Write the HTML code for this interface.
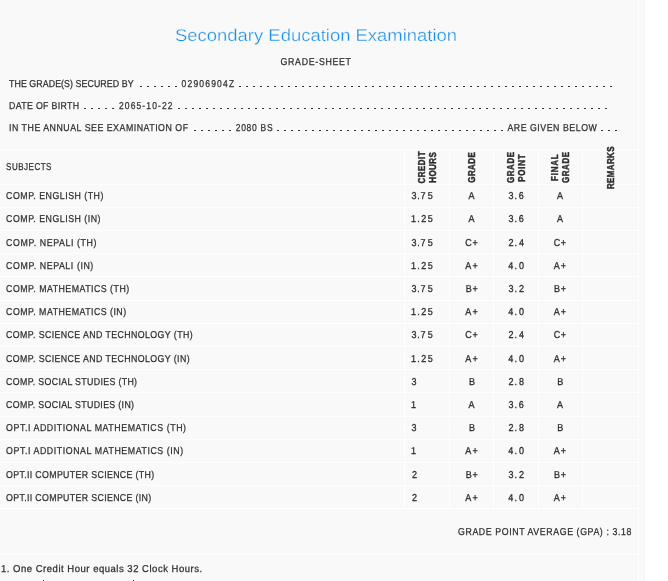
<!DOCTYPE html><html><head><meta charset="utf-8"><title>Grade Sheet</title><style>html,body{margin:0;padding:0;background:#fff;}svg{display:block;will-change:transform}text{font-family:"Liberation Sans",sans-serif}</style></head><body>
<svg width="668" height="581" viewBox="0 0 668 581" shape-rendering="crispEdges">
<rect x="0" y="0" width="645" height="581" fill="#f9f9f9"/>
<g fill="#ffffff">
<rect x="638" y="0" width="1" height="581"/>
<rect x="0" y="149" width="638" height="1"/>
<rect x="0" y="184" width="638" height="1"/>
<rect x="0" y="207" width="638" height="1"/>
<rect x="0" y="230" width="638" height="1"/>
<rect x="0" y="253" width="638" height="1"/>
<rect x="0" y="276" width="638" height="1"/>
<rect x="0" y="300" width="638" height="1"/>
<rect x="0" y="323" width="638" height="1"/>
<rect x="0" y="346" width="638" height="1"/>
<rect x="0" y="369" width="638" height="1"/>
<rect x="0" y="392" width="638" height="1"/>
<rect x="0" y="416" width="638" height="1"/>
<rect x="0" y="439" width="638" height="1"/>
<rect x="0" y="462" width="638" height="1"/>
<rect x="0" y="485" width="638" height="1"/>
<rect x="0" y="508" width="638" height="1"/>
<rect x="0" y="554" width="638" height="1"/>
<rect x="404" y="149" width="1" height="359"/>
<rect x="449" y="149" width="1" height="359"/>
<rect x="493" y="149" width="1" height="359"/>
<rect x="538" y="149" width="1" height="359"/>
<rect x="582" y="149" width="1" height="359"/>
</g>
<g fill="#333333">
<rect x="140" y="86" width="2" height="1"/>
<rect x="147" y="86" width="2" height="1"/>
<rect x="154" y="86" width="2" height="1"/>
<rect x="161" y="86" width="2" height="1"/>
<rect x="168" y="86" width="2" height="1"/>
<rect x="175" y="86" width="2" height="1"/>
<rect x="239" y="86" width="2" height="1"/>
<rect x="246" y="86" width="2" height="1"/>
<rect x="253" y="86" width="2" height="1"/>
<rect x="260" y="86" width="2" height="1"/>
<rect x="267" y="86" width="2" height="1"/>
<rect x="274" y="86" width="2" height="1"/>
<rect x="281" y="86" width="2" height="1"/>
<rect x="288" y="86" width="2" height="1"/>
<rect x="295" y="86" width="2" height="1"/>
<rect x="302" y="86" width="2" height="1"/>
<rect x="309" y="86" width="2" height="1"/>
<rect x="316" y="86" width="2" height="1"/>
<rect x="323" y="86" width="2" height="1"/>
<rect x="330" y="86" width="2" height="1"/>
<rect x="337" y="86" width="2" height="1"/>
<rect x="344" y="86" width="2" height="1"/>
<rect x="351" y="86" width="2" height="1"/>
<rect x="358" y="86" width="2" height="1"/>
<rect x="365" y="86" width="2" height="1"/>
<rect x="372" y="86" width="2" height="1"/>
<rect x="379" y="86" width="2" height="1"/>
<rect x="386" y="86" width="2" height="1"/>
<rect x="393" y="86" width="2" height="1"/>
<rect x="400" y="86" width="2" height="1"/>
<rect x="407" y="86" width="2" height="1"/>
<rect x="414" y="86" width="2" height="1"/>
<rect x="421" y="86" width="2" height="1"/>
<rect x="428" y="86" width="2" height="1"/>
<rect x="435" y="86" width="2" height="1"/>
<rect x="442" y="86" width="2" height="1"/>
<rect x="449" y="86" width="2" height="1"/>
<rect x="456" y="86" width="2" height="1"/>
<rect x="463" y="86" width="2" height="1"/>
<rect x="470" y="86" width="2" height="1"/>
<rect x="477" y="86" width="2" height="1"/>
<rect x="484" y="86" width="2" height="1"/>
<rect x="491" y="86" width="2" height="1"/>
<rect x="498" y="86" width="2" height="1"/>
<rect x="505" y="86" width="2" height="1"/>
<rect x="512" y="86" width="2" height="1"/>
<rect x="519" y="86" width="2" height="1"/>
<rect x="526" y="86" width="2" height="1"/>
<rect x="533" y="86" width="2" height="1"/>
<rect x="540" y="86" width="2" height="1"/>
<rect x="547" y="86" width="2" height="1"/>
<rect x="554" y="86" width="2" height="1"/>
<rect x="561" y="86" width="2" height="1"/>
<rect x="568" y="86" width="2" height="1"/>
<rect x="575" y="86" width="2" height="1"/>
<rect x="582" y="86" width="2" height="1"/>
<rect x="589" y="86" width="2" height="1"/>
<rect x="596" y="86" width="2" height="1"/>
<rect x="603" y="86" width="2" height="1"/>
<rect x="610" y="86" width="2" height="1"/>
<rect x="84" y="108" width="2" height="1"/>
<rect x="91" y="108" width="2" height="1"/>
<rect x="98" y="108" width="2" height="1"/>
<rect x="105" y="108" width="2" height="1"/>
<rect x="112" y="108" width="2" height="1"/>
<rect x="178" y="108" width="2" height="1"/>
<rect x="185" y="108" width="2" height="1"/>
<rect x="192" y="108" width="2" height="1"/>
<rect x="199" y="108" width="2" height="1"/>
<rect x="206" y="108" width="2" height="1"/>
<rect x="213" y="108" width="2" height="1"/>
<rect x="220" y="108" width="2" height="1"/>
<rect x="227" y="108" width="2" height="1"/>
<rect x="234" y="108" width="2" height="1"/>
<rect x="241" y="108" width="2" height="1"/>
<rect x="248" y="108" width="2" height="1"/>
<rect x="255" y="108" width="2" height="1"/>
<rect x="262" y="108" width="2" height="1"/>
<rect x="269" y="108" width="2" height="1"/>
<rect x="276" y="108" width="2" height="1"/>
<rect x="283" y="108" width="2" height="1"/>
<rect x="290" y="108" width="2" height="1"/>
<rect x="297" y="108" width="2" height="1"/>
<rect x="304" y="108" width="2" height="1"/>
<rect x="311" y="108" width="2" height="1"/>
<rect x="318" y="108" width="2" height="1"/>
<rect x="325" y="108" width="2" height="1"/>
<rect x="332" y="108" width="2" height="1"/>
<rect x="339" y="108" width="2" height="1"/>
<rect x="346" y="108" width="2" height="1"/>
<rect x="353" y="108" width="2" height="1"/>
<rect x="360" y="108" width="2" height="1"/>
<rect x="367" y="108" width="2" height="1"/>
<rect x="374" y="108" width="2" height="1"/>
<rect x="381" y="108" width="2" height="1"/>
<rect x="388" y="108" width="2" height="1"/>
<rect x="395" y="108" width="2" height="1"/>
<rect x="402" y="108" width="2" height="1"/>
<rect x="409" y="108" width="2" height="1"/>
<rect x="416" y="108" width="2" height="1"/>
<rect x="423" y="108" width="2" height="1"/>
<rect x="430" y="108" width="2" height="1"/>
<rect x="437" y="108" width="2" height="1"/>
<rect x="444" y="108" width="2" height="1"/>
<rect x="451" y="108" width="2" height="1"/>
<rect x="458" y="108" width="2" height="1"/>
<rect x="465" y="108" width="2" height="1"/>
<rect x="472" y="108" width="2" height="1"/>
<rect x="479" y="108" width="2" height="1"/>
<rect x="486" y="108" width="2" height="1"/>
<rect x="493" y="108" width="2" height="1"/>
<rect x="500" y="108" width="2" height="1"/>
<rect x="507" y="108" width="2" height="1"/>
<rect x="514" y="108" width="2" height="1"/>
<rect x="521" y="108" width="2" height="1"/>
<rect x="528" y="108" width="2" height="1"/>
<rect x="535" y="108" width="2" height="1"/>
<rect x="542" y="108" width="2" height="1"/>
<rect x="549" y="108" width="2" height="1"/>
<rect x="556" y="108" width="2" height="1"/>
<rect x="563" y="108" width="2" height="1"/>
<rect x="570" y="108" width="2" height="1"/>
<rect x="577" y="108" width="2" height="1"/>
<rect x="584" y="108" width="2" height="1"/>
<rect x="591" y="108" width="2" height="1"/>
<rect x="598" y="108" width="2" height="1"/>
<rect x="605" y="108" width="2" height="1"/>
<rect x="194" y="130" width="2" height="1"/>
<rect x="201" y="130" width="2" height="1"/>
<rect x="208" y="130" width="2" height="1"/>
<rect x="215" y="130" width="2" height="1"/>
<rect x="222" y="130" width="2" height="1"/>
<rect x="229" y="130" width="2" height="1"/>
<rect x="277" y="130" width="2" height="1"/>
<rect x="284" y="130" width="2" height="1"/>
<rect x="291" y="130" width="2" height="1"/>
<rect x="298" y="130" width="2" height="1"/>
<rect x="305" y="130" width="2" height="1"/>
<rect x="312" y="130" width="2" height="1"/>
<rect x="319" y="130" width="2" height="1"/>
<rect x="326" y="130" width="2" height="1"/>
<rect x="333" y="130" width="2" height="1"/>
<rect x="340" y="130" width="2" height="1"/>
<rect x="347" y="130" width="2" height="1"/>
<rect x="354" y="130" width="2" height="1"/>
<rect x="361" y="130" width="2" height="1"/>
<rect x="368" y="130" width="2" height="1"/>
<rect x="375" y="130" width="2" height="1"/>
<rect x="382" y="130" width="2" height="1"/>
<rect x="389" y="130" width="2" height="1"/>
<rect x="396" y="130" width="2" height="1"/>
<rect x="403" y="130" width="2" height="1"/>
<rect x="410" y="130" width="2" height="1"/>
<rect x="417" y="130" width="2" height="1"/>
<rect x="424" y="130" width="2" height="1"/>
<rect x="431" y="130" width="2" height="1"/>
<rect x="438" y="130" width="2" height="1"/>
<rect x="445" y="130" width="2" height="1"/>
<rect x="452" y="130" width="2" height="1"/>
<rect x="459" y="130" width="2" height="1"/>
<rect x="466" y="130" width="2" height="1"/>
<rect x="473" y="130" width="2" height="1"/>
<rect x="480" y="130" width="2" height="1"/>
<rect x="487" y="130" width="2" height="1"/>
<rect x="494" y="130" width="2" height="1"/>
<rect x="501" y="130" width="2" height="1"/>
<rect x="601" y="130" width="2" height="1"/>
<rect x="608" y="130" width="2" height="1"/>
<rect x="615" y="130" width="2" height="1"/>
</g>
<g text-rendering="geometricPrecision" shape-rendering="auto">
<text transform="translate(175.000,41.000)" font-family="Liberation Sans" font-size="17" fill="#1a8fe6" stroke="#f9f9f9" stroke-width="0.3" textLength="282.091" lengthAdjust="spacingAndGlyphs">Secondary Education Examination</text>
<text transform="translate(280.500,65.000) scale(0.88,1)" font-family="Liberation Sans" font-size="10" fill="#2d2d2d" stroke="#2d2d2d" stroke-width="0.25" textLength="80.098" lengthAdjust="spacing">GRADE-SHEET</text>
<text transform="translate(9.000,87.000) scale(0.88,1)" font-family="Liberation Sans" font-size="10" fill="#2d2d2d" stroke="#2d2d2d" stroke-width="0.25" textLength="141.550" lengthAdjust="spacing">THE GRADE(S) SECURED BY</text>
<text transform="translate(181.600,87.000) scale(0.85,1)" font-family="Liberation Sans" font-size="10" fill="#2d2d2d" stroke="#2d2d2d" stroke-width="0.25" textLength="61.821" lengthAdjust="spacing">02906904Z</text>
<text transform="translate(9.000,109.000) scale(0.88,1)" font-family="Liberation Sans" font-size="10" fill="#2d2d2d" stroke="#2d2d2d" stroke-width="0.25" textLength="79.642" lengthAdjust="spacing">DATE OF BIRTH</text>
<text transform="translate(119.000,109.000) scale(0.85,1)" font-family="Liberation Sans" font-size="10" fill="#2d2d2d" stroke="#2d2d2d" stroke-width="0.25" textLength="62.965" lengthAdjust="spacing">2065-10-22</text>
<text transform="translate(9.000,131.000) scale(0.88,1)" font-family="Liberation Sans" font-size="10" fill="#2d2d2d" stroke="#2d2d2d" stroke-width="0.25" textLength="203.457" lengthAdjust="spacing">IN THE ANNUAL SEE EXAMINATION OF</text>
<text transform="translate(235.700,131.000) scale(0.85,1)" font-family="Liberation Sans" font-size="10" fill="#2d2d2d" stroke="#2d2d2d" stroke-width="0.25" textLength="43.379" lengthAdjust="spacing">2080 BS</text>
<text transform="translate(507.400,131.000) scale(0.88,1)" font-family="Liberation Sans" font-size="10" fill="#2d2d2d" stroke="#2d2d2d" stroke-width="0.25" textLength="101.637" lengthAdjust="spacing">ARE GIVEN BELOW</text>
<text transform="translate(6.100,170.000) scale(0.8,1)" font-family="Liberation Sans" font-size="10" fill="#2d2d2d" stroke="#2d2d2d" stroke-width="0.25" textLength="56.696" lengthAdjust="spacing">SUBJECTS</text>
<text transform="translate(424.900,183.600) rotate(-90) scale(0.8,1)" font-family="Liberation Sans" font-size="10" font-weight="bold" fill="#2d2d2d" stroke="#2d2d2d" stroke-width="0.45" textLength="40.327" lengthAdjust="spacing">CREDIT</text>
<text transform="translate(436.000,182.700) rotate(-90) scale(0.8,1)" font-family="Liberation Sans" font-size="10" font-weight="bold" fill="#2d2d2d" stroke="#2d2d2d" stroke-width="0.45" textLength="38.080" lengthAdjust="spacing">HOURS</text>
<text transform="translate(475.200,182.700) rotate(-90) scale(0.8,1)" font-family="Liberation Sans" font-size="10" font-weight="bold" fill="#2d2d2d" stroke="#2d2d2d" stroke-width="0.45" textLength="38.080" lengthAdjust="spacing">GRADE</text>
<text transform="translate(514.400,182.900) rotate(-90) scale(0.8,1)" font-family="Liberation Sans" font-size="10" font-weight="bold" fill="#2d2d2d" stroke="#2d2d2d" stroke-width="0.45" textLength="38.705" lengthAdjust="spacing">GRADE</text>
<text transform="translate(525.300,181.700) rotate(-90) scale(0.8,1)" font-family="Liberation Sans" font-size="10" font-weight="bold" fill="#2d2d2d" stroke="#2d2d2d" stroke-width="0.45" textLength="34.291" lengthAdjust="spacing">POINT</text>
<text transform="translate(558.400,180.900) rotate(-90) scale(0.8,1)" font-family="Liberation Sans" font-size="10" font-weight="bold" fill="#2d2d2d" stroke="#2d2d2d" stroke-width="0.45" textLength="33.045" lengthAdjust="spacing">FINAL</text>
<text transform="translate(569.400,182.900) rotate(-90) scale(0.8,1)" font-family="Liberation Sans" font-size="10" font-weight="bold" fill="#2d2d2d" stroke="#2d2d2d" stroke-width="0.45" textLength="38.705" lengthAdjust="spacing">GRADE</text>
<text transform="translate(614.200,189.000) rotate(-90) scale(0.8,1)" font-family="Liberation Sans" font-size="10" font-weight="bold" fill="#2d2d2d" stroke="#2d2d2d" stroke-width="0.45" textLength="53.147" lengthAdjust="spacing">REMARKS</text>
<text transform="translate(6.100,199.000) scale(0.88,1)" font-family="Liberation Sans" font-size="10" fill="#2d2d2d" stroke="#2d2d2d" stroke-width="0.25" textLength="110.582" lengthAdjust="spacing">COMP. ENGLISH (TH)</text>
<text transform="scale(0.9,1)" x="457.25 463.67 467.33 475.23" y="199" font-size="10" fill="#2d2d2d" stroke="#2d2d2d" stroke-width="0.3">3.75</text>
<text transform="scale(0.9,1)" x="520.67" y="199" font-size="10" fill="#2d2d2d" stroke="#2d2d2d" stroke-width="0.3">A</text>
<text transform="scale(0.9,1)" x="565.14 571.56 576.52" y="199" font-size="10" fill="#2d2d2d" stroke="#2d2d2d" stroke-width="0.3">3.6</text>
<text transform="scale(0.9,1)" x="618.78" y="199" font-size="10" fill="#2d2d2d" stroke="#2d2d2d" stroke-width="0.3">A</text>
<text transform="translate(6.100,222.000) scale(0.88,1)" font-family="Liberation Sans" font-size="10" fill="#2d2d2d" stroke="#2d2d2d" stroke-width="0.25" textLength="107.247" lengthAdjust="spacing">COMP. ENGLISH (IN)</text>
<text transform="scale(0.9,1)" x="456.69 463.67 468.11 475.23" y="222" font-size="10" fill="#2d2d2d" stroke="#2d2d2d" stroke-width="0.3">1.25</text>
<text transform="scale(0.9,1)" x="520.67" y="222" font-size="10" fill="#2d2d2d" stroke="#2d2d2d" stroke-width="0.3">A</text>
<text transform="scale(0.9,1)" x="565.14 571.56 576.52" y="222" font-size="10" fill="#2d2d2d" stroke="#2d2d2d" stroke-width="0.3">3.6</text>
<text transform="scale(0.9,1)" x="618.78" y="222" font-size="10" fill="#2d2d2d" stroke="#2d2d2d" stroke-width="0.3">A</text>
<text transform="translate(6.100,246.000) scale(0.88,1)" font-family="Liberation Sans" font-size="10" fill="#2d2d2d" stroke="#2d2d2d" stroke-width="0.25" textLength="102.661" lengthAdjust="spacing">COMP. NEPALI (TH)</text>
<text transform="scale(0.9,1)" x="457.25 463.67 467.33 475.23" y="246" font-size="10" fill="#2d2d2d" stroke="#2d2d2d" stroke-width="0.3">3.75</text>
<text transform="scale(0.9,1)" x="517.05 524.92" y="246" font-size="10" fill="#2d2d2d" stroke="#2d2d2d" stroke-width="0.3">C+</text>
<text transform="scale(0.9,1)" x="565.11 571.56 576.58" y="246" font-size="10" fill="#2d2d2d" stroke="#2d2d2d" stroke-width="0.3">2.4</text>
<text transform="scale(0.9,1)" x="615.16 623.03" y="246" font-size="10" fill="#2d2d2d" stroke="#2d2d2d" stroke-width="0.3">C+</text>
<text transform="translate(6.100,269.000) scale(0.88,1)" font-family="Liberation Sans" font-size="10" fill="#2d2d2d" stroke="#2d2d2d" stroke-width="0.25" textLength="99.099" lengthAdjust="spacing">COMP. NEPALI (IN)</text>
<text transform="scale(0.9,1)" x="456.69 463.67 468.11 475.23" y="269" font-size="10" fill="#2d2d2d" stroke="#2d2d2d" stroke-width="0.3">1.25</text>
<text transform="scale(0.9,1)" x="517.05 525.08" y="269" font-size="10" fill="#2d2d2d" stroke="#2d2d2d" stroke-width="0.3">A+</text>
<text transform="scale(0.9,1)" x="564.86 571.56 576.55" y="269" font-size="10" fill="#2d2d2d" stroke="#2d2d2d" stroke-width="0.3">4.0</text>
<text transform="scale(0.9,1)" x="615.17 623.19" y="269" font-size="10" fill="#2d2d2d" stroke="#2d2d2d" stroke-width="0.3">A+</text>
<text transform="translate(6.100,292.000) scale(0.88,1)" font-family="Liberation Sans" font-size="10" fill="#2d2d2d" stroke="#2d2d2d" stroke-width="0.25" textLength="139.868" lengthAdjust="spacing">COMP. MATHEMATICS (TH)</text>
<text transform="scale(0.9,1)" x="457.25 463.67 467.33 475.23" y="292" font-size="10" fill="#2d2d2d" stroke="#2d2d2d" stroke-width="0.3">3.75</text>
<text transform="scale(0.9,1)" x="517.52 524.92" y="292" font-size="10" fill="#2d2d2d" stroke="#2d2d2d" stroke-width="0.3">B+</text>
<text transform="scale(0.9,1)" x="565.14 571.56 576.55" y="292" font-size="10" fill="#2d2d2d" stroke="#2d2d2d" stroke-width="0.3">3.2</text>
<text transform="scale(0.9,1)" x="615.63 623.03" y="292" font-size="10" fill="#2d2d2d" stroke="#2d2d2d" stroke-width="0.3">B+</text>
<text transform="translate(6.100,315.000) scale(0.88,1)" font-family="Liberation Sans" font-size="10" fill="#2d2d2d" stroke="#2d2d2d" stroke-width="0.25" textLength="136.420" lengthAdjust="spacing">COMP. MATHEMATICS (IN)</text>
<text transform="scale(0.9,1)" x="456.69 463.67 468.11 475.23" y="315" font-size="10" fill="#2d2d2d" stroke="#2d2d2d" stroke-width="0.3">1.25</text>
<text transform="scale(0.9,1)" x="517.05 525.08" y="315" font-size="10" fill="#2d2d2d" stroke="#2d2d2d" stroke-width="0.3">A+</text>
<text transform="scale(0.9,1)" x="564.86 571.56 576.55" y="315" font-size="10" fill="#2d2d2d" stroke="#2d2d2d" stroke-width="0.3">4.0</text>
<text transform="scale(0.9,1)" x="615.17 623.19" y="315" font-size="10" fill="#2d2d2d" stroke="#2d2d2d" stroke-width="0.3">A+</text>
<text transform="translate(6.100,338.000) scale(0.88,1)" font-family="Liberation Sans" font-size="10" fill="#2d2d2d" stroke="#2d2d2d" stroke-width="0.25" textLength="211.989" lengthAdjust="spacing">COMP. SCIENCE AND TECHNOLOGY (TH)</text>
<text transform="scale(0.9,1)" x="457.25 463.67 467.33 475.23" y="338" font-size="10" fill="#2d2d2d" stroke="#2d2d2d" stroke-width="0.3">3.75</text>
<text transform="scale(0.9,1)" x="517.05 524.92" y="338" font-size="10" fill="#2d2d2d" stroke="#2d2d2d" stroke-width="0.3">C+</text>
<text transform="scale(0.9,1)" x="565.11 571.56 576.58" y="338" font-size="10" fill="#2d2d2d" stroke="#2d2d2d" stroke-width="0.3">2.4</text>
<text transform="scale(0.9,1)" x="615.16 623.03" y="338" font-size="10" fill="#2d2d2d" stroke="#2d2d2d" stroke-width="0.3">C+</text>
<text transform="translate(6.100,362.000) scale(0.88,1)" font-family="Liberation Sans" font-size="10" fill="#2d2d2d" stroke="#2d2d2d" stroke-width="0.25" textLength="208.558" lengthAdjust="spacing">COMP. SCIENCE AND TECHNOLOGY (IN)</text>
<text transform="scale(0.9,1)" x="456.69 463.67 468.11 475.23" y="362" font-size="10" fill="#2d2d2d" stroke="#2d2d2d" stroke-width="0.3">1.25</text>
<text transform="scale(0.9,1)" x="517.05 525.08" y="362" font-size="10" fill="#2d2d2d" stroke="#2d2d2d" stroke-width="0.3">A+</text>
<text transform="scale(0.9,1)" x="564.86 571.56 576.55" y="362" font-size="10" fill="#2d2d2d" stroke="#2d2d2d" stroke-width="0.3">4.0</text>
<text transform="scale(0.9,1)" x="615.17 623.19" y="362" font-size="10" fill="#2d2d2d" stroke="#2d2d2d" stroke-width="0.3">A+</text>
<text transform="translate(6.100,385.000) scale(0.88,1)" font-family="Liberation Sans" font-size="10" fill="#2d2d2d" stroke="#2d2d2d" stroke-width="0.25" textLength="148.823" lengthAdjust="spacing">COMP. SOCIAL STUDIES (TH)</text>
<text transform="scale(0.9,1)" x="457.25" y="385" font-size="10" fill="#2d2d2d" stroke="#2d2d2d" stroke-width="0.3">3</text>
<text transform="scale(0.9,1)" x="521.13" y="385" font-size="10" fill="#2d2d2d" stroke="#2d2d2d" stroke-width="0.3">B</text>
<text transform="scale(0.9,1)" x="565.11 571.56 576.55" y="385" font-size="10" fill="#2d2d2d" stroke="#2d2d2d" stroke-width="0.3">2.8</text>
<text transform="scale(0.9,1)" x="619.24" y="385" font-size="10" fill="#2d2d2d" stroke="#2d2d2d" stroke-width="0.3">B</text>
<text transform="translate(6.100,408.000) scale(0.88,1)" font-family="Liberation Sans" font-size="10" fill="#2d2d2d" stroke="#2d2d2d" stroke-width="0.25" textLength="145.392" lengthAdjust="spacing">COMP. SOCIAL STUDIES (IN)</text>
<text transform="scale(0.9,1)" x="456.69" y="408" font-size="10" fill="#2d2d2d" stroke="#2d2d2d" stroke-width="0.3">1</text>
<text transform="scale(0.9,1)" x="520.67" y="408" font-size="10" fill="#2d2d2d" stroke="#2d2d2d" stroke-width="0.3">A</text>
<text transform="scale(0.9,1)" x="565.14 571.56 576.52" y="408" font-size="10" fill="#2d2d2d" stroke="#2d2d2d" stroke-width="0.3">3.6</text>
<text transform="scale(0.9,1)" x="618.78" y="408" font-size="10" fill="#2d2d2d" stroke="#2d2d2d" stroke-width="0.3">A</text>
<text transform="translate(6.100,431.000) scale(0.88,1)" font-family="Liberation Sans" font-size="10" fill="#2d2d2d" stroke="#2d2d2d" stroke-width="0.25" textLength="204.492" lengthAdjust="spacing">OPT.I ADDITIONAL MATHEMATICS (TH)</text>
<text transform="scale(0.9,1)" x="457.25" y="431" font-size="10" fill="#2d2d2d" stroke="#2d2d2d" stroke-width="0.3">3</text>
<text transform="scale(0.9,1)" x="521.13" y="431" font-size="10" fill="#2d2d2d" stroke="#2d2d2d" stroke-width="0.3">B</text>
<text transform="scale(0.9,1)" x="565.11 571.56 576.55" y="431" font-size="10" fill="#2d2d2d" stroke="#2d2d2d" stroke-width="0.3">2.8</text>
<text transform="scale(0.9,1)" x="619.24" y="431" font-size="10" fill="#2d2d2d" stroke="#2d2d2d" stroke-width="0.3">B</text>
<text transform="translate(6.100,454.000) scale(0.88,1)" font-family="Liberation Sans" font-size="10" fill="#2d2d2d" stroke="#2d2d2d" stroke-width="0.25" textLength="201.272" lengthAdjust="spacing">OPT.I ADDITIONAL MATHEMATICS (IN)</text>
<text transform="scale(0.9,1)" x="456.69" y="454" font-size="10" fill="#2d2d2d" stroke="#2d2d2d" stroke-width="0.3">1</text>
<text transform="scale(0.9,1)" x="517.05 525.08" y="454" font-size="10" fill="#2d2d2d" stroke="#2d2d2d" stroke-width="0.3">A+</text>
<text transform="scale(0.9,1)" x="564.86 571.56 576.55" y="454" font-size="10" fill="#2d2d2d" stroke="#2d2d2d" stroke-width="0.3">4.0</text>
<text transform="scale(0.9,1)" x="615.17 623.19" y="454" font-size="10" fill="#2d2d2d" stroke="#2d2d2d" stroke-width="0.3">A+</text>
<text transform="translate(6.100,478.000) scale(0.88,1)" font-family="Liberation Sans" font-size="10" fill="#2d2d2d" stroke="#2d2d2d" stroke-width="0.25" textLength="168.257" lengthAdjust="spacing">OPT.II COMPUTER SCIENCE (TH)</text>
<text transform="scale(0.9,1)" x="457.66" y="478" font-size="10" fill="#2d2d2d" stroke="#2d2d2d" stroke-width="0.3">2</text>
<text transform="scale(0.9,1)" x="517.52 524.92" y="478" font-size="10" fill="#2d2d2d" stroke="#2d2d2d" stroke-width="0.3">B+</text>
<text transform="scale(0.9,1)" x="565.14 571.56 576.55" y="478" font-size="10" fill="#2d2d2d" stroke="#2d2d2d" stroke-width="0.3">3.2</text>
<text transform="scale(0.9,1)" x="615.63 623.03" y="478" font-size="10" fill="#2d2d2d" stroke="#2d2d2d" stroke-width="0.3">B+</text>
<text transform="translate(6.100,501.000) scale(0.88,1)" font-family="Liberation Sans" font-size="10" fill="#2d2d2d" stroke="#2d2d2d" stroke-width="0.25" textLength="164.939" lengthAdjust="spacing">OPT.II COMPUTER SCIENCE (IN)</text>
<text transform="scale(0.9,1)" x="457.66" y="501" font-size="10" fill="#2d2d2d" stroke="#2d2d2d" stroke-width="0.3">2</text>
<text transform="scale(0.9,1)" x="517.05 525.08" y="501" font-size="10" fill="#2d2d2d" stroke="#2d2d2d" stroke-width="0.3">A+</text>
<text transform="scale(0.9,1)" x="564.86 571.56 576.55" y="501" font-size="10" fill="#2d2d2d" stroke="#2d2d2d" stroke-width="0.3">4.0</text>
<text transform="scale(0.9,1)" x="615.17 623.19" y="501" font-size="10" fill="#2d2d2d" stroke="#2d2d2d" stroke-width="0.3">A+</text>
<text transform="translate(458.000,535.000) scale(0.88,1)" font-family="Liberation Sans" font-size="10" fill="#2d2d2d" stroke="#2d2d2d" stroke-width="0.25" textLength="197.058" lengthAdjust="spacing">GRADE POINT AVERAGE (GPA) : 3.18</text>
<text transform="translate(1.000,572.000) scale(0.95,1)" font-family="Liberation Sans" font-size="10" fill="#2d2d2d" stroke="#2d2d2d" stroke-width="0.25" textLength="211.718" lengthAdjust="spacing">1. One Credit Hour equals 32 Clock Hours.</text>
<rect x="43" y="580" width="1" height="1" fill="#333333"/>
<rect x="133" y="580" width="1" height="1" fill="#333333"/>
</g></svg></body></html>
